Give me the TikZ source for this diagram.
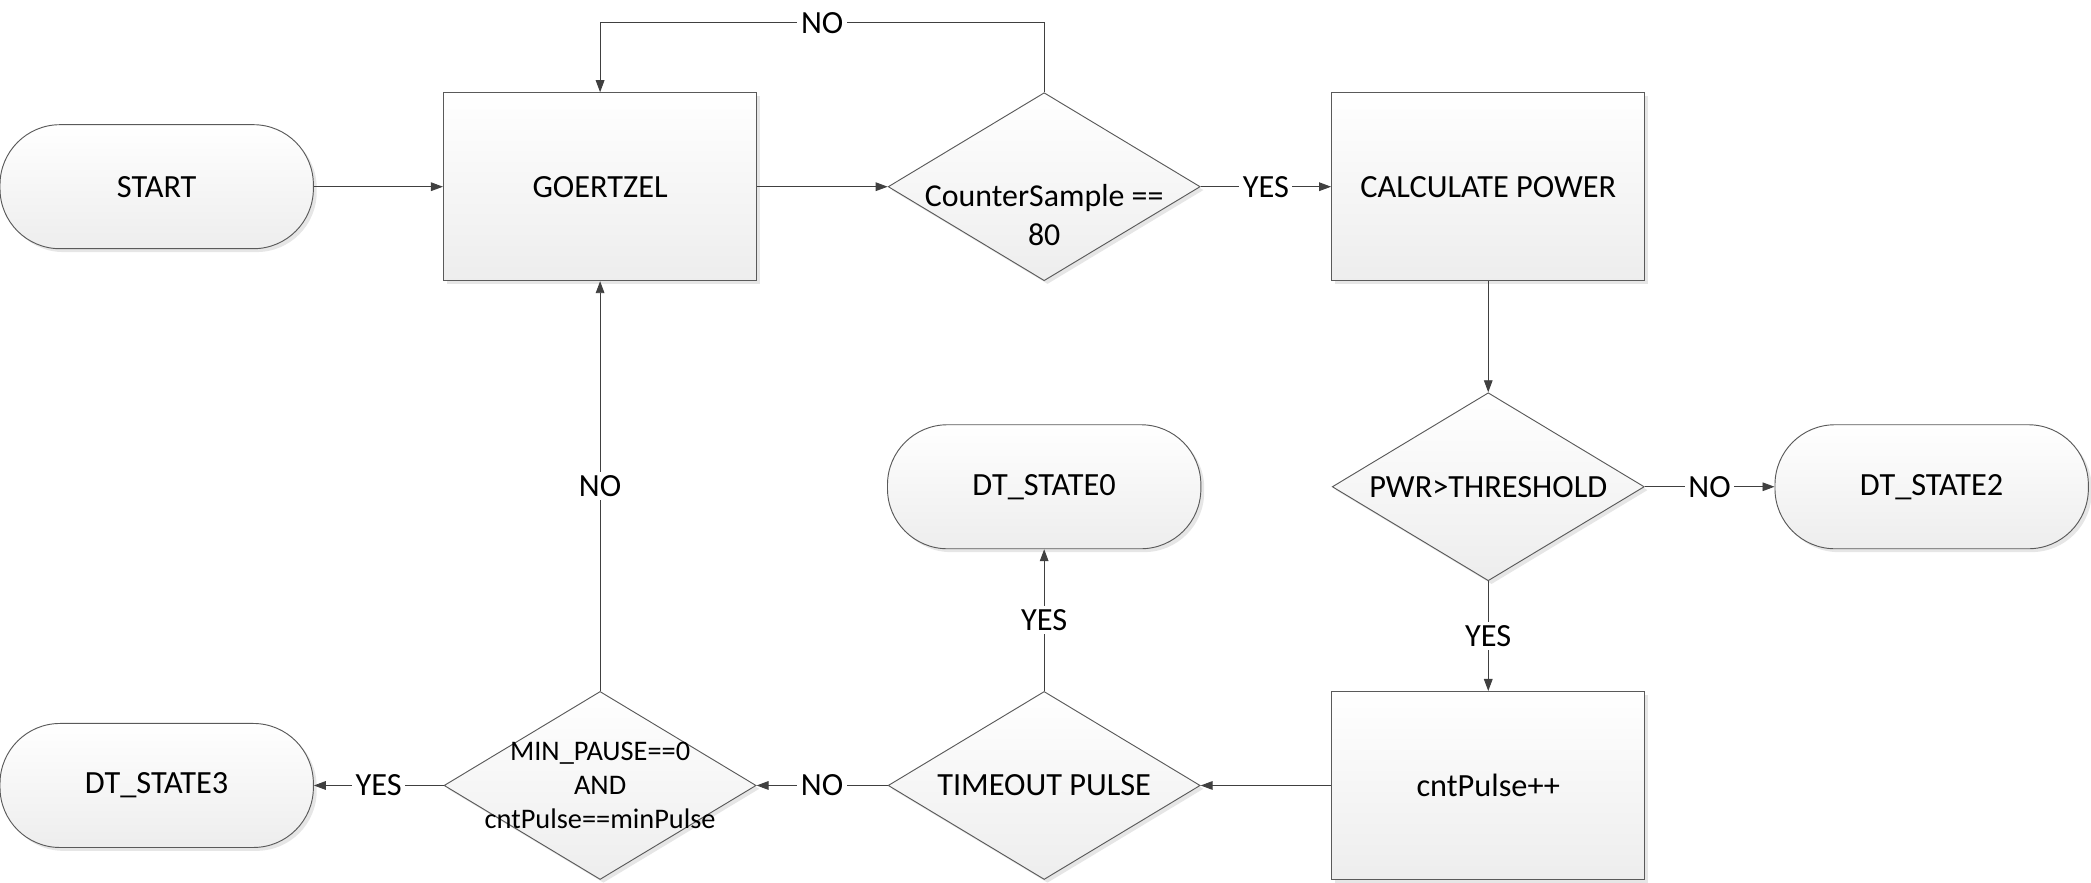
\documentclass[tikz,border=0pt]{standalone}
\usepackage{fontspec}
\setmainfont{Carlito}
\usetikzlibrary{shapes.geometric,arrows.meta,shadows}
\definecolor{edgegray}{HTML}{404040}
\definecolor{boxgray}{HTML}{5A5A5A}

\begin{document}
\begin{tikzpicture}[font=\fontsize{13.8}{16.2}\selectfont,
  shape base/.style={draw=boxgray,thin,top color=white,bottom color=gray!14,
    drop shadow={opacity=0.2,shadow xshift=0.5mm,shadow yshift=-0.5mm}},
  block/.style={shape base,rectangle,minimum width=4.70cm,minimum height=2.82cm,inner sep=0pt},
  terminal/.style={shape base,rectangle,rounded corners=0.9cm,minimum width=4.70cm,minimum height=1.86cm,inner sep=0pt},
  decision/.style={shape base,diamond,aspect=1.66,minimum width=4.68cm,minimum height=2.82cm,inner sep=0pt},
  line/.style={draw=edgegray,thin,-{Triangle[length=1.8mm,width=1.3mm]}},
  lbl/.style={fill=white,inner sep=1.5pt}]
          \useasboundingbox (0,0) rectangle (31.36,-13.24);
          % top row
          \node[terminal] (start) at (2.35,-2.80) {START};
          \node[block] (goertzel) at (9.00,-2.80) {GOERTZEL};
          \node[decision,label={[align=center,yshift=-0.43cm,font=\fontsize{13.6}{16.5}\selectfont]center:CounterSample ==\\80}] (counter) at (15.66,-2.80) {};
          \node[block] (power) at (22.32,-2.80) {CALCULATE POWER};
          % middle row
          \node[terminal] (state0) at (15.66,-7.30) {DT\_STATE0};
          \node[decision] (threshold) at (22.32,-7.30) {PWR>THRESHOLD};
          \node[terminal] (state2) at (28.97,-7.30) {DT\_STATE2};
          % bottom row
          \node[terminal] (state3) at (2.35,-11.78) {DT\_STATE3};
          \node[decision,label={[align=center,font=\fontsize{12.1}{14.5}\selectfont]center:MIN\_PAUSE==0\\AND\\cntPulse==minPulse}] (minpause) at (9.00,-11.78) {};
          \node[decision] (timeout) at (15.66,-11.78) {TIMEOUT PULSE};
          \node[block] (cntpulse) at (22.32,-11.78) {cntPulse++};

          \draw[line] (start) -- (goertzel);
          \draw[line] (goertzel) -- (counter);
          \draw[line] (counter) -- node[lbl]{YES} (power);
          \draw[line] (counter.north) -- ++(0,1.04) -| node[lbl,pos=0.25]{NO} (goertzel.north);
          \draw[line] (power) -- (threshold);
          \draw[line] (threshold) -- node[lbl]{NO} (state2);
          \draw[line] (threshold) -- node[lbl]{YES} (cntpulse);
          \draw[line] (cntpulse) -- (timeout);
          \draw[line] (timeout) -- node[lbl]{YES} (state0);
          \draw[line] (timeout) -- node[lbl]{NO} (minpause);
          \draw[line] (minpause) -- node[lbl]{YES} (state3);
          \draw[line] (minpause) -- node[lbl]{NO} (goertzel);
        \end{tikzpicture}
\end{document}
